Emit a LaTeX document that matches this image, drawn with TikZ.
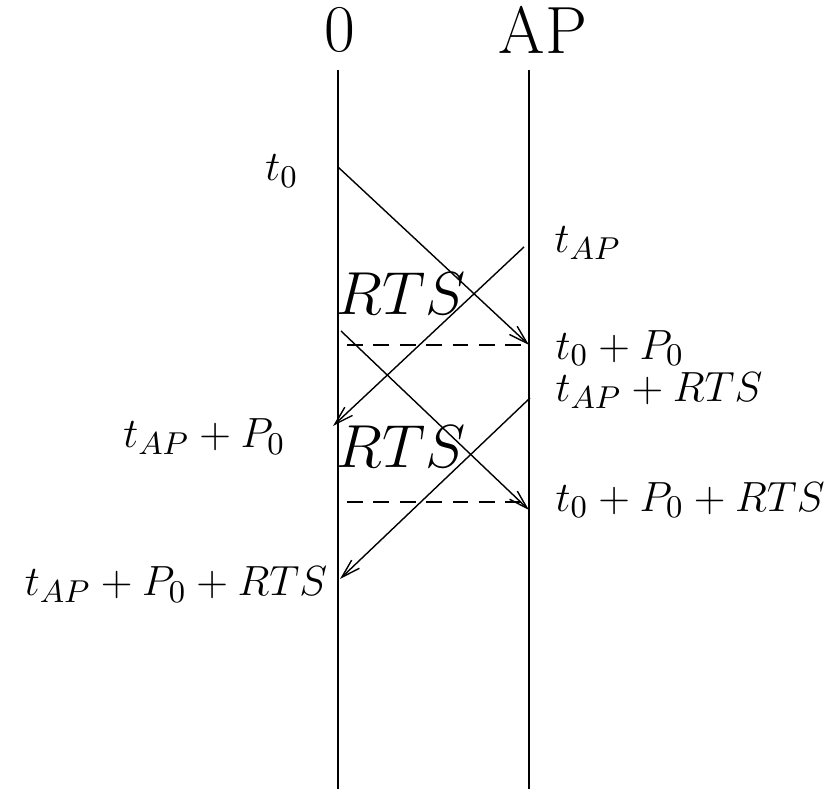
\documentclass[tikz,border=0pt]{standalone}
\usetikzlibrary{arrows.meta}

\begin{document}
\begin{tikzpicture}[
    x=0.01cm, y=-0.01cm,
    line width=0.4pt,
    lifeline/.style={draw, line width=0.45pt},
    head/.style={inner sep=0pt, font=\rmfamily\fontsize{19}{19}\selectfont},
    msg/.style={-{Straight Barb[length=5.4pt, width=3.2pt]}},
    syncline/.style={dashed, dash pattern=on 4.5pt off 3pt},
    tlabel/.style={inner sep=0pt, font=\fontsize{13}{15}\selectfont},
    biglabel/.style={inner sep=0pt, font=\fontsize{16}{19}\selectfont}
]
\useasboundingbox (0,0) rectangle (839,789);

% ── Stations ──
\node[head] (h0) at (340,30) {0};
\node[head] (hap) at (543,30) {AP};
\coordinate (a0) at (338,70);
\coordinate (b0) at (338,789);
\coordinate (aap) at (529,70);
\coordinate (bap) at (529,789);
\draw[lifeline] (a0) -- (b0);
\draw[lifeline] (aap) -- (bap);

% ── Message end points ──
\coordinate (s1) at (338,167);
\coordinate (e1) at (529,345);
\coordinate (s2) at (524,247);
\coordinate (e2) at (333,426);
\coordinate (s3) at (341,331);
\coordinate (e3) at (529,510);
\coordinate (s4) at (530,398);
\coordinate (e4) at (340,579);
\coordinate (d1a) at (347,345);
\coordinate (d2a) at (347,502);
\coordinate (d2b) at (522,502);

% ── Messages ──
\draw[msg] (s1) -- (e1);
\draw[msg] (s2) -- (e2);
\draw[msg] (s3) -- (e3);
\draw[msg] (s4) -- (e4);
\draw[syncline] (d1a) -- (e1);
\draw[syncline] (d2a) -- (d2b);

% ── Times ──
\node[tlabel, anchor=east] (lt0) at (299,171) {$t_0$};
\node[tlabel, anchor=west] (ltap) at (554,243) {$t_{AP}$};
\node[tlabel, anchor=west] (lt0p) at (555,348) {$t_0 + P_0$};
\node[tlabel, anchor=west] (ltapr) at (555,391) {$t_{AP} + RTS$};
\node[tlabel, anchor=east] (ltapp) at (286,437) {$t_{AP} + P_0$};
\node[tlabel, anchor=west] (lt0pr) at (555,500) {$t_0 + P_0 + RTS$};
\node[tlabel, anchor=east] (ltappr) at (328,585) {$t_{AP} + P_0 + RTS$};

% ── Durations ──
\node[biglabel, anchor=west] (rts1) at (336,294) {$RTS$};
\node[biglabel, anchor=west] (rts2) at (336,447) {$RTS$};

\end{tikzpicture}
\end{document}
